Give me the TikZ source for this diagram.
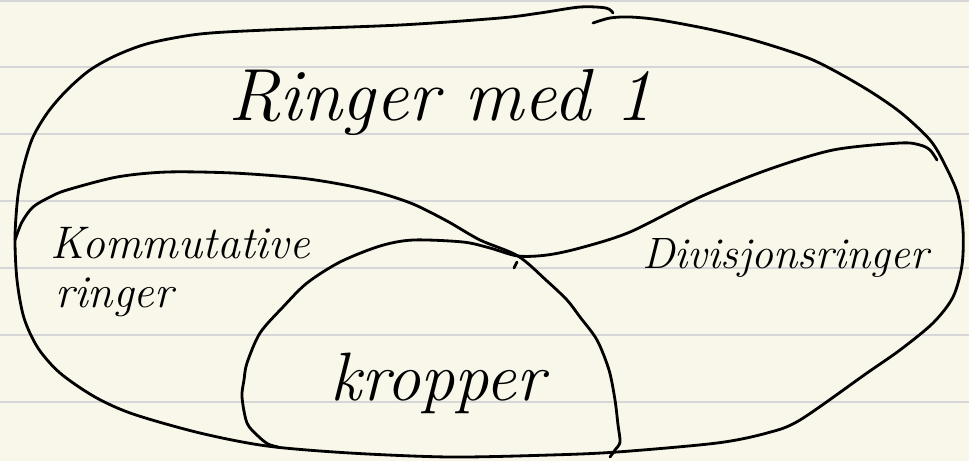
\documentclass[tikz,border=0pt]{standalone}
\usepackage{fontspec}
\usepackage{xcolor}
\usepackage{tikz}
\usetikzlibrary{positioning}

\definecolor{paper}{RGB}{249,247,234}
\definecolor{ruled}{RGB}{214,214,216}
\tikzset{
  pen/.style={line width=1.6pt, line cap=round, line join=round},
  hand/.style={inner sep=0pt, anchor=base west},
}

\begin{document}
\begin{tikzpicture}[x=0.02cm, y=-0.02cm]

    \fill[paper] (0,0) rectangle (969,461);
    \useasboundingbox (0,0) rectangle (969,461);
    \foreach \y in {1,67,134,201,268,335,402}
        \draw[ruled, line width=1.1pt] (0,\y) -- (969,\y);

    % Ringer med 1
    \draw[pen] plot[smooth, tension=0.5] coordinates {
        (613,13) (606,8) (580,7) (540,13) (500,18) (400,25) (267,30)
        (200,34) (150,43) (117,55) (90,70) (67,90) (48,112) (33,137)
        (24,165) (18,195) (15,237) (17,280) (24,318) (38,348)
        (60,373) (95,397) (133,414) (200,433) (267,446) (350,453)
        (450,457) (550,455) (617,452) (717,443) (767,433) (800,420)
        (867,373) (900,350) (933,323) (953,297) (962,265) (963,230)
        (958,195) (945,165) (930,140) (900,112) (863,87) (813,60)
        (760,42) (713,30) (660,20) (630,17) (610,18) (593,23)};

    % Kommutative ringer
    \draw[pen] plot[smooth, tension=0.5] coordinates {
        (15,240) (22,222) (33,207) (50,197) (67,190) (117,177) (167,172)
        (233,173) (300,178) (345,185) (380,193) (413,204) (447,221)
        (480,240) (518,256) (547,281) (567,300) (580,317) (597,340)
        (609,370) (615,400) (618,425) (620,442) (615,450) (610,457)};

    % Kropper and Divisjonsringer
    \draw[pen] plot[smooth, tension=0.5] coordinates {
        (278,447) (268,444) (258,436) (247,423) (242,397) (244,380)
        (247,363) (260,333) (283,307) (307,283) (340,262) (380,246)
        (413,240) (463,242) (490,248) (518,256) (547,255) (580,248)
        (630,232) (700,197) (767,170) (833,150) (900,143) (920,145)
        (930,150) (937,160)};
    \draw[pen] (514,268) -- (517,262);

    \node[hand, font=\fontsize{42}{48}\selectfont\itshape] (ringer) at (228,120) {Ringer med 1};
    \node[hand, font=\fontsize{26}{30}\selectfont\itshape] (komm) at (50,258) {Kommutative};
    \node[hand, font=\fontsize{26}{30}\selectfont\itshape] (kommring) at (55,307) {ringer};
    \node[hand, font=\fontsize{25}{30}\selectfont\itshape] (divisjon) at (642,268) {Divisjonsringer};
    \node[hand, font=\fontsize{39}{44}\selectfont\itshape] (kropper) at (330,400) {kropper};

\end{tikzpicture}
\end{document}
